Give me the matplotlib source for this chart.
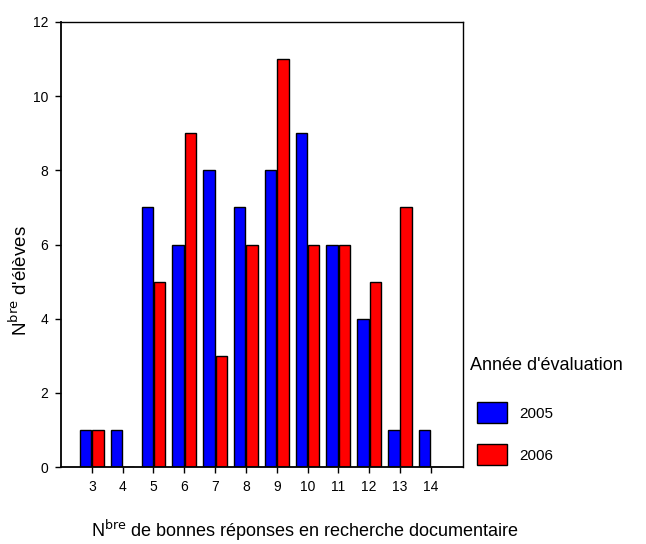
import matplotlib
matplotlib.use("Agg")
import matplotlib.pyplot as plt
from matplotlib.patches import Patch
import numpy as np

plt.rcParams['font.family'] = ['Liberation Sans', 'DejaVu Sans']

categories = [3, 4, 5, 6, 7, 8, 9, 10, 11, 12, 13, 14]
values_2005 = [1, 1, 7, 6, 8, 7, 8, 9, 6, 4, 1, 1]
values_2006 = [1, 0, 5, 9, 3, 6, 11, 6, 6, 5, 7, 0]
series_labels = ["2005", "2006"]
yticks = [0, 2, 4, 6, 8, 10, 12]

fig = plt.figure(figsize=(6.46, 5.44), dpi=100)
ax = fig.add_axes([0.0944, 0.1415, 0.6226, 0.8181])

x = np.array(categories, dtype=float)
w = 0.37
off = 0.2
ax.bar(x - off, values_2005, width=w, color="#0000ff", edgecolor="black", linewidth=1.0)
ax.bar(x + off, values_2006, width=w, color="#ff0000", edgecolor="black", linewidth=1.0)

ax.set_xlim(2, 15.05)
ax.set_ylim(0, 12)
ax.set_xticks(categories)
ax.set_xticklabels([str(c) for c in categories], fontsize=10)
ax.set_yticks(yticks)
ax.set_yticklabels([str(t) for t in yticks], fontsize=10)
ax.tick_params(direction='out', length=4, width=1, pad=5)

for s in ['left', 'bottom']:
    ax.spines[s].set_linewidth(1.3)
for s in ['top', 'right']:
    ax.spines[s].set_linewidth(1.0)

fig.text(0.031, 0.485, "N$^{\\mathrm{bre}}$ d'élèves", fontsize=13.5, rotation=90,
         ha='center', va='center')
fig.text(0.472, 0.002, "N$^{\\mathrm{bre}}$ de bonnes réponses en recherche documentaire",
         fontsize=13, ha='center', va='bottom')

fig.text(0.727, 0.329, "Année d'évaluation", fontsize=13, ha='left', va='center')

handles = [Patch(facecolor="#0000ff", edgecolor="black", linewidth=1.0),
           Patch(facecolor="#ff0000", edgecolor="black", linewidth=1.0)]
leg = fig.legend(handles, series_labels, loc='upper left', bbox_to_anchor=(0.731, 0.269),
                 frameon=False, fontsize=11,
                 handlelength=2.0, handleheight=1.75, labelspacing=1.35, handletextpad=0.75,
                 borderaxespad=0.0, borderpad=0.3)

fig.savefig("out.png", dpi=100)
